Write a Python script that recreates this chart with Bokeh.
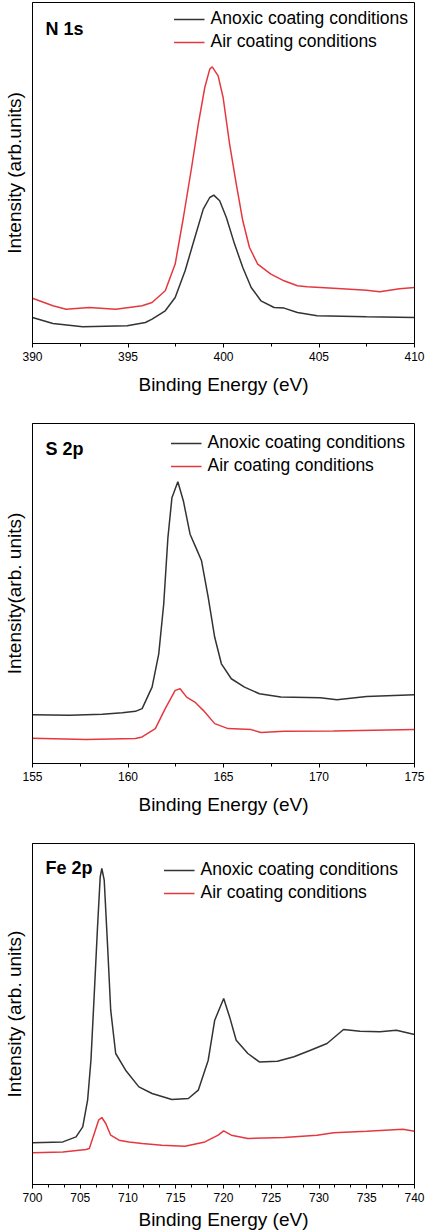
from bokeh.plotting import figure
from bokeh.layouts import column
from bokeh.models import Range1d, SingleIntervalTicker, FixedTicker, Label, Legend, LegendItem
from bokeh.embed import file_html
from bokeh.resources import INLINE

# ---------------- data ----------------
n1s_x_anoxic = [390.0, 391.07, 392.63, 394.96, 395.91, 396.26, 396.95, 397.47, 397.99, 398.5, 398.94,
                399.28, 399.49, 399.8, 400.15, 400.58, 401.01, 401.45, 401.96, 402.65, 403.17, 403.87,
                404.9, 407.49, 410.0]
n1s_y_anoxic = [26, 20, 16.7, 17.7, 21, 24.4, 32.7, 46, 72.7, 106, 134.4,
                146, 148.4, 142.7, 126, 99.4, 76, 56, 42.7, 36, 35.4, 31,
                27.7, 26.7, 26]
n1s_x_air = [390.0, 391.07, 391.76, 392.97, 394.36, 395.74, 396.26, 396.95, 397.47, 397.9, 398.33,
             398.68, 399.02, 399.28, 399.41, 399.72, 399.98, 400.32, 400.67, 401.01, 401.36, 401.79,
             402.48, 403.17, 403.87, 404.38, 405.76, 407.49, 408.18, 409.22, 410.0]
n1s_y_air = [45.3, 37.7, 34.3, 36, 34.3, 37.7, 41, 52.7, 79.4, 126, 176,
             219.4, 256, 274.4, 276.7, 267.7, 246, 199.4, 159.4, 122.7, 96, 79.4,
             69.4, 62.7, 57.7, 56.7, 55.3, 53.3, 51.7, 54.7, 56]

s2p_x_anoxic = [155.0, 156.94, 158.66, 159.7, 160.39, 160.74, 161.26, 161.61, 161.87, 162.09, 162.3,
                162.61, 162.9, 163.25, 163.59, 163.85, 164.2, 164.54, 164.89, 165.41, 166.1, 166.88,
                168.0, 170.07, 170.94, 172.49, 175.0]
s2p_y_anoxic = [49, 48.3, 49.3, 51, 52.3, 55, 76.6, 110, 160, 226.6, 266.6,
                282.6, 263.3, 230, 215, 203.3, 166.6, 126.6, 100, 85, 76.6, 70,
                66.7, 66, 64, 67.3, 69]
s2p_x_air = [155.0, 157.8, 160.39, 160.74, 161.43, 161.95, 162.47, 162.73, 163.07, 163.5, 163.94,
             164.54, 165.24, 166.45, 166.96, 168.17, 170.77, 175.0]
s2p_y_air = [25.3, 24, 25, 26.6, 35, 55, 73.3, 75, 66.6, 61.6, 53.3,
             40, 35, 34, 31, 32.3, 32.7, 34]

fe2p_x_anoxic = [700.0, 702.14, 703.18, 704.56, 705.26, 705.77, 706.12, 706.47, 706.81, 707.09, 707.26,
                 707.51, 707.85, 708.19, 708.71, 709.75, 711.14, 712.52, 714.59, 716.32, 717.36, 718.4,
                 719.08, 720.02, 720.64, 721.33, 722.55, 723.75, 725.65, 727.38, 729.11, 730.84, 732.57,
                 734.3, 736.37, 738.1, 740.0]
fe2p_y_anoxic = [41.7, 42.3, 42.6, 47.6, 57.6, 84.3, 124.3, 191, 257.6, 307.6, 316,
                 304.3, 241, 174.3, 131, 114.3, 97.6, 91, 85, 86, 94.3, 124.3,
                 164.3, 186, 167.6, 144.3, 131, 122.6, 123.3, 127.7, 134.3, 141, 155,
                 153.3, 152.7, 154.3, 150]
fe2p_x_air = [700.0, 703.18, 705.6, 705.95, 706.47, 706.92, 707.26, 707.67, 708.19, 709.06, 710.1,
              711.48, 713.55, 715.97, 718.05, 719.44, 720.02, 720.82, 722.55, 726.34, 729.8, 731.53,
              734.99, 738.79, 740.0]
fe2p_y_air = [31.7, 32.6, 35, 36, 51, 64.3, 67, 61, 49.3, 44.3, 42.6,
              41, 39.3, 38.3, 42.6, 49.3, 53.6, 49.3, 46, 47, 49.3, 51.7,
              53.3, 55.3, 53.3]

series_names = ["Anoxic coating conditions", "Air coating conditions"]
panel_titles = ["N 1s", "S 2p", "Fe 2p"]
y_titles = ["Intensity (arb.units)", "Intensity(arb. units)", "Intensity (arb. units)"]
x_title = "Binding Energy (eV)"

BLACK = "#333333"
RED = "#e5383e"
FONT = "Liberation Sans"


def make_panel(xa, ya, xr, yr, xlim, minor, title, ytitle,
               fh, btop, bbot, leg_margin, lab_dy, title_standoff):
    p = figure(frame_width=382, frame_height=fh, output_backend="svg",
               toolbar_location=None, x_range=Range1d(*xlim), y_range=Range1d(0, 341),
               min_border_left=30, min_border_right=14, min_border_top=btop,
               min_border_bottom=bbot)
    p.background_fill_color = "white"
    p.border_fill_color = "white"
    p.outline_line_color = "black"
    p.outline_line_width = 1
    p.xgrid.visible = False
    p.ygrid.visible = False

    r1 = p.line(xa, ya, line_color=BLACK, line_width=1.5)
    r2 = p.line(xr, yr, line_color=RED, line_width=1.5)

    ax = p.xaxis[0]
    ax.ticker = SingleIntervalTicker(interval=5, num_minor_ticks=minor)
    ax.axis_line_color = "black"
    ax.major_tick_in = 0
    ax.major_tick_out = 4
    ax.minor_tick_in = 0
    ax.minor_tick_out = 3
    ax.major_tick_line_color = "black"
    ax.minor_tick_line_color = "black"
    ax.major_label_text_font = FONT
    ax.major_label_text_font_size = "12px"
    ax.major_label_text_color = "black"
    ax.major_label_standoff = 4
    ax.axis_label = x_title
    ax.axis_label_text_font = FONT
    ax.axis_label_text_font_size = "19px"
    ax.axis_label_text_font_style = "normal"
    ax.axis_label_text_color = "black"
    ax.axis_label_standoff = title_standoff

    ay = p.yaxis[0]
    ay.ticker = FixedTicker(ticks=[])
    ay.major_tick_out = 0
    ay.major_tick_in = 0
    ay.minor_tick_out = 0
    ay.minor_tick_in = 0
    ay.major_label_standoff = 0
    ay.axis_line_color = "black"
    ay.axis_label = ytitle
    ay.axis_label_text_font = FONT
    ay.axis_label_text_font_size = "19px"
    ay.axis_label_text_font_style = "normal"
    ay.axis_label_text_color = "black"
    ay.axis_label_standoff = 8

    legend = Legend(items=[LegendItem(label=series_names[0], renderers=[r1]),
                           LegendItem(label=series_names[1], renderers=[r2])],
                    location="top_right")
    legend.margin = leg_margin
    legend.padding = 4
    legend.spacing = 2
    legend.glyph_width = 31
    legend.glyph_height = 20
    legend.label_height = 20
    legend.label_standoff = 6
    legend.label_text_font = FONT
    legend.label_text_font_size = "17.5px"
    legend.label_text_color = "black"
    legend.border_line_alpha = 0
    legend.background_fill_alpha = 0
    p.add_layout(legend)

    lab = Label(x=13, y=fh - lab_dy, x_units="screen", y_units="screen", text=title,
                text_font=FONT, text_font_size="18px", text_font_style="bold",
                text_color="black", text_baseline="middle", text_align="left")
    p.add_layout(lab)
    return p


p1 = make_panel(n1s_x_anoxic, n1s_y_anoxic, n1s_x_air, n1s_y_air, (390, 410), 2,
                panel_titles[0], y_titles[0], 341, 2, 67, 2, 26, 10)
p2 = make_panel(s2p_x_anoxic, s2p_y_anoxic, s2p_x_air, s2p_y_air, (155, 175), 2,
                panel_titles[1], y_titles[1], 340, 13, 55, 5, 25, 10)
p3 = make_panel(fe2p_x_anoxic, fe2p_y_anoxic, fe2p_x_air, fe2p_y_air, (700, 740), 3,
                panel_titles[2], y_titles[2], 341, 25, 46, 12, 24, 4)

layout = column(p1, p2, p3, spacing=0)
open("out.html", "w").write(file_html(layout, INLINE))
